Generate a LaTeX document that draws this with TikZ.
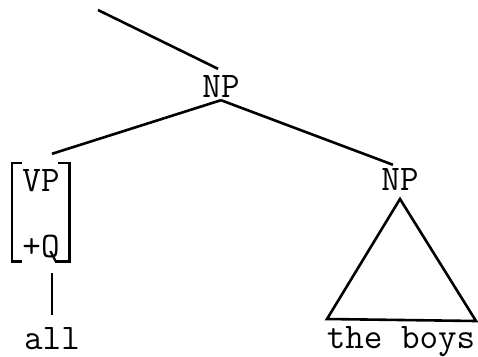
\documentclass[tikz,border=0pt]{standalone}
\begin{document}
\begin{tikzpicture}[x=1pt,y=-1pt,
  edge/.style={line width=2.6pt},
  lbl/.style={inner sep=3pt, font=\fontsize{36}{36}\selectfont\ttfamily},
  word/.style={inner sep=0pt, anchor=base, font=\fontsize{36}{36}\selectfont\ttfamily}]
\useasboundingbox (0,0) rectangle (478,356);
\coordinate (top) at (98,10);
\node[lbl] (np1) at (221,86) {NP};
\node[lbl] (np2) at (400,179) {NP};
\node[inner sep=0, minimum width=57pt, minimum height=98pt] (vp) at (40.5,212) {};
\node[lbl] (vpl) at (41,181) {VP};
\node[lbl] (q) at (41,249) {+Q};
\node[word] (all) at (52,349) {all};
\node[word] (boys) at (401,348) {the boys};
\coordinate (apex) at (400,199);
\coordinate (bl) at (327,319);
\coordinate (br) at (476,321);
\coordinate (vt) at ([yshift=-12pt]vp.south);
\coordinate (vb) at ([yshift=12pt]all.north);
% edges
\draw[edge] (top) -- ([xshift=-3pt,yshift=3pt]np1.north);
\draw[edge] (np1.south) -- ([xshift=11.5pt,yshift=9pt]vp.north);
\draw[edge] (np1.south) -- ([xshift=-7pt]np2.north);
\draw[edge] (vt -| all.north) -- (vb -| all.north);
% brackets
\draw[edge] ([xshift=10pt]vp.north west) -- (vp.north west) -- (vp.south west) -- ([xshift=10pt]vp.south west);
\draw[edge] ([xshift=-11pt]vp.north east) -- (vp.north east) -- (vp.south east) -- ([xshift=-14pt]vp.south east);
% triangle
\draw[edge, line join=miter] (apex) -- (bl) -- (br) -- cycle;
\end{tikzpicture}
\end{document}
